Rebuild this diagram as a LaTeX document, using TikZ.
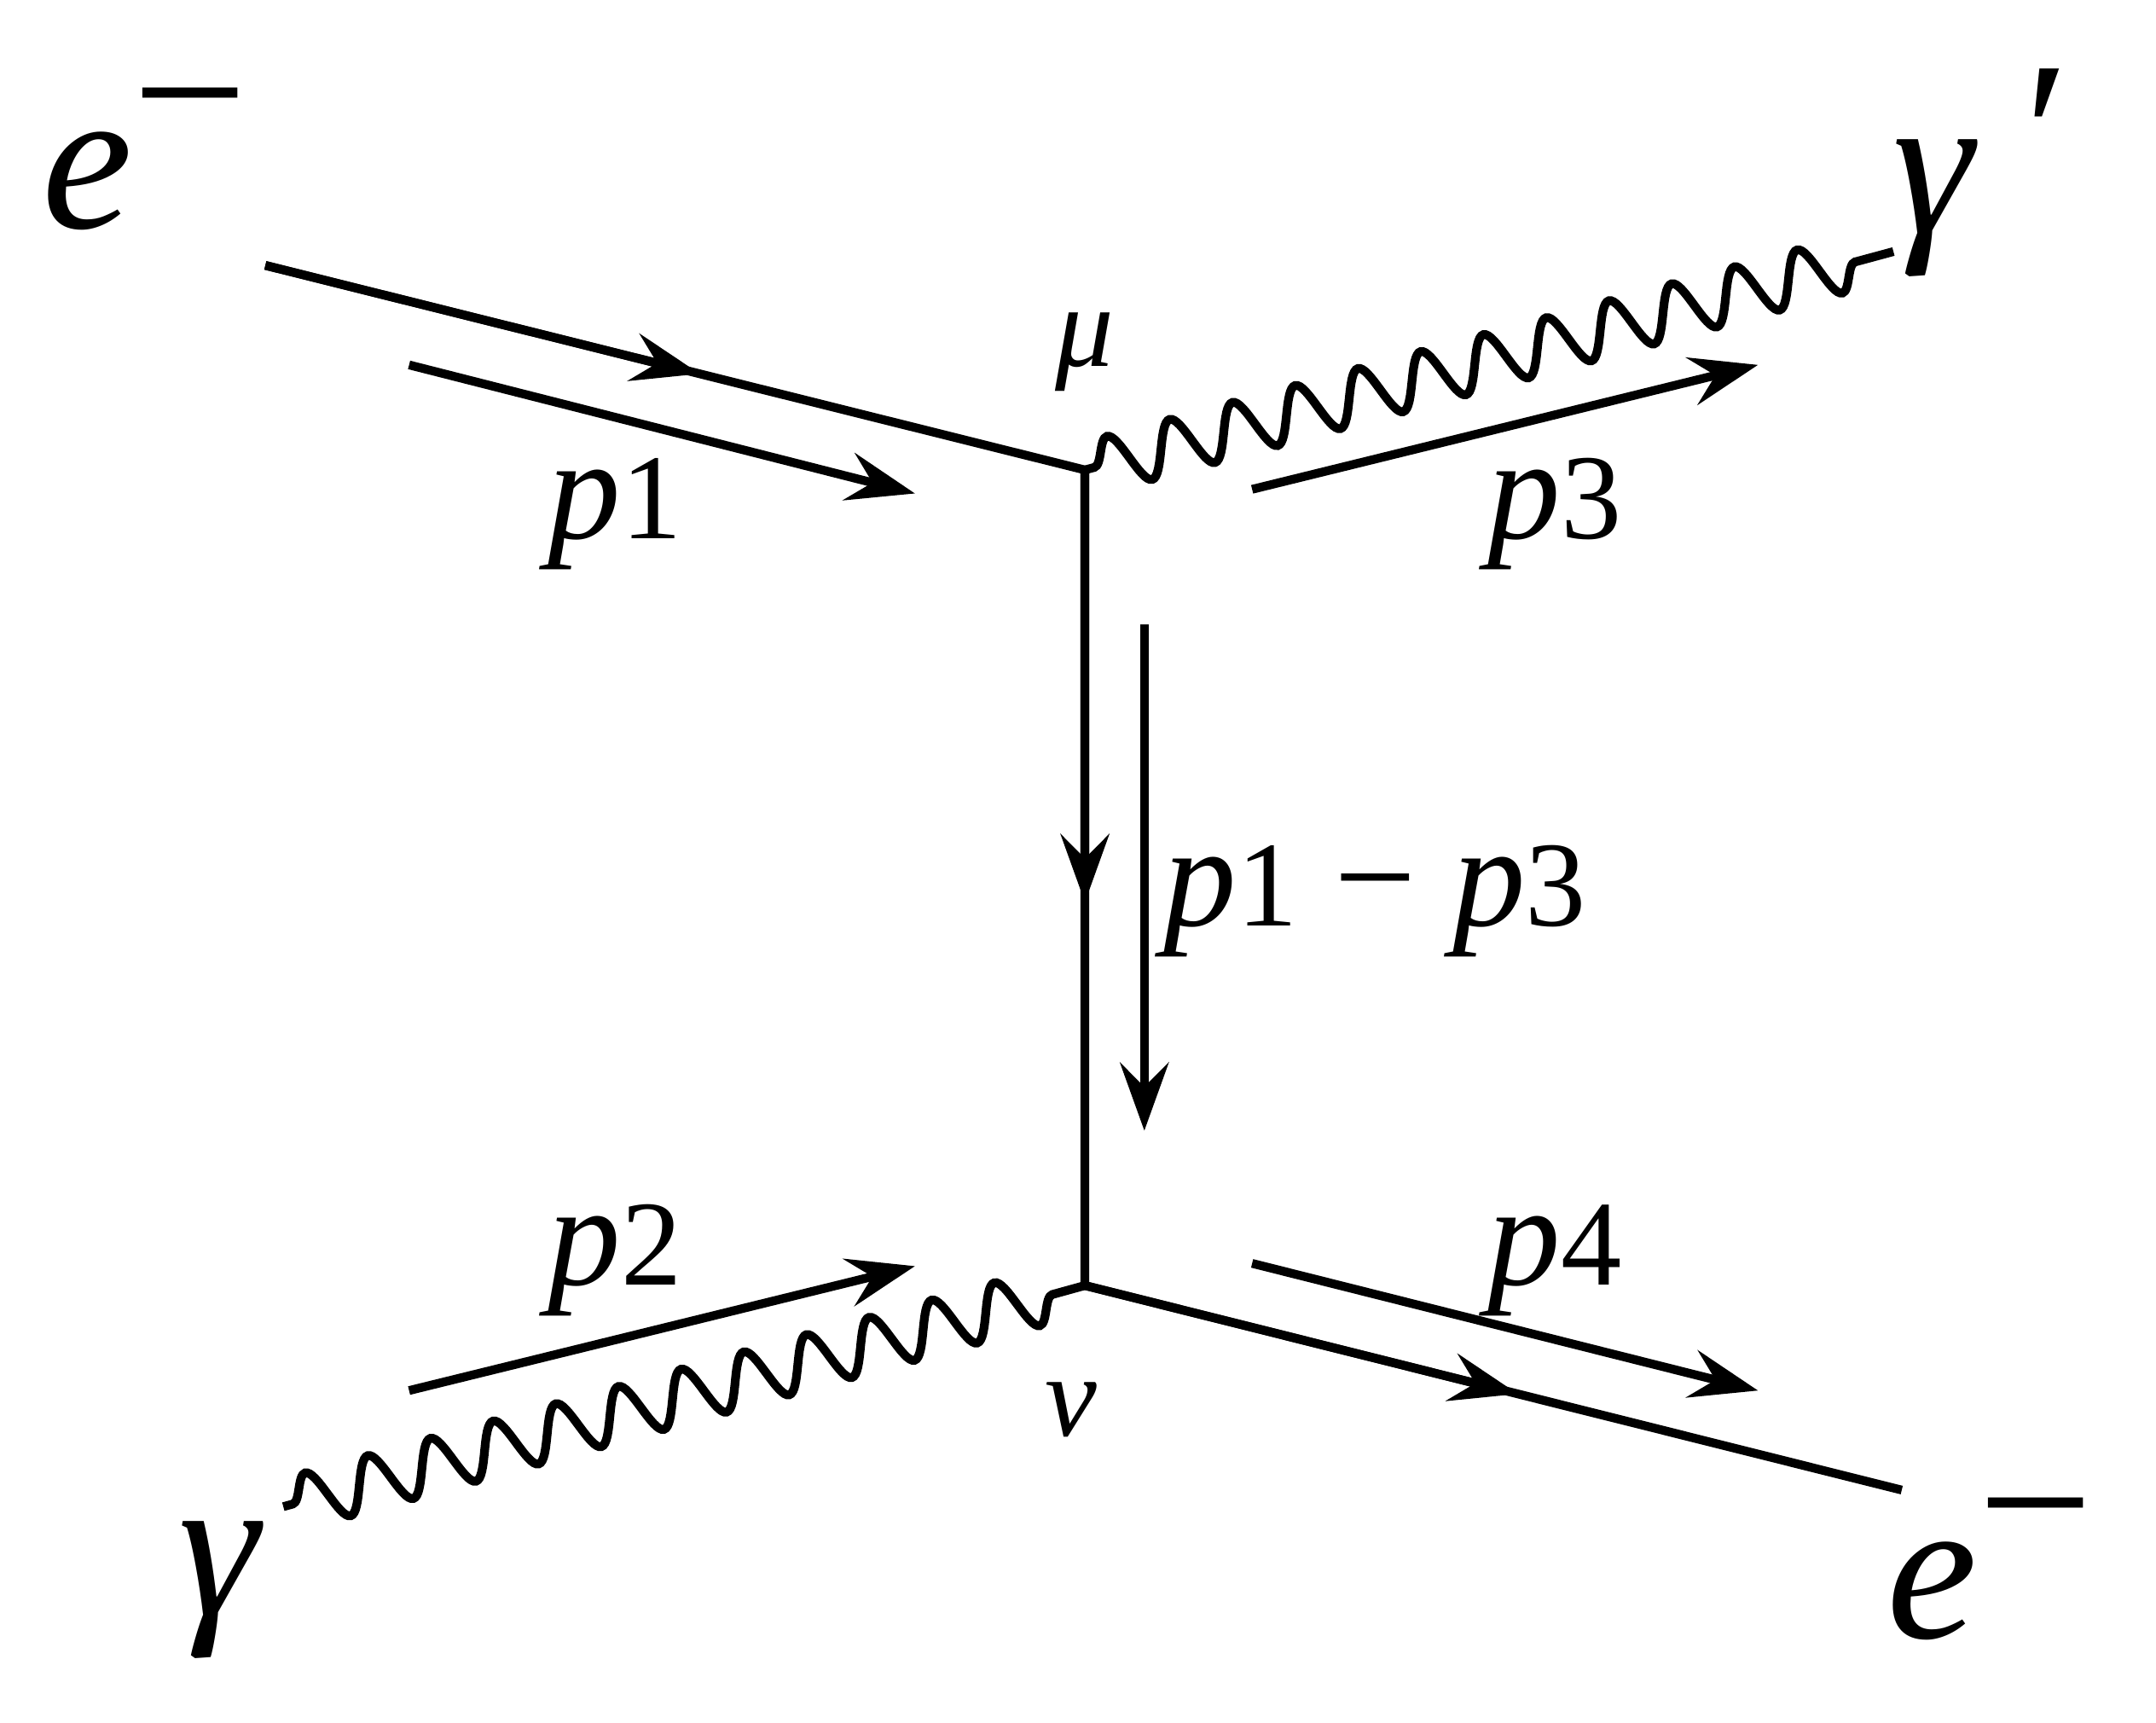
\documentclass[tikz,border=0pt]{standalone}
\usepackage{fontspec}
\setmainfont{Liberation Serif}
\usetikzlibrary{arrows.meta,decorations.pathmorphing,positioning,calc}
\newcommand{\ix}[1]{{\fontsize{25}{30}\selectfont #1}}
\begin{document}
\begin{tikzpicture}[x=0.01cm,y=-0.01cm,line width=1.8pt,
    every node/.append style={font=\fontsize{30}{36}\selectfont},
    photon/.style={decorate,decoration={snake,amplitude=5.5pt,segment length=0.47cm,pre length=2pt,post length=2pt}},
    mom/.style={-{Stealth[length=14pt,width=10pt,inset=5pt]}},
    mid/.style={-{Stealth[length=14pt,width=10pt,inset=5pt]}},
    big/.style={font=\fontsize{42}{50}\selectfont},
    small/.style={font=\fontsize{24}{28}\selectfont}]
  \useasboundingbox (0,0) rectangle (1560,1246);
  % vertices and free ends
  \coordinate (mu) at (785,340);
  \coordinate (nu) at (785,930);
  \coordinate (ein) at (192,192);
  \coordinate (eout) at (1376,1078);
  \coordinate (gin) at (205,1090);
  \coordinate (gout) at (1370,182);
  % fermion lines
  \draw[mid] (ein) -- ($(ein)!0.53!(mu)$);
  \draw (ein) -- (mu) -- (nu) -- (eout);
  \draw[mid] (mu) -- ($(mu)!0.53!(nu)$);
  \draw[mid] (nu) -- ($(nu)!0.53!(eout)$);
  % photons
  \draw[photon] (gin) -- (nu);
  \draw[photon] (mu) -- (gout);
  % momentum arrows
  \draw[mom] (296,264) -- (662,357);
  \draw[mom] (906,354) -- (1272,264);
  \draw[mom] (828,452) -- (828,818);
  \draw[mom] (296,1006) -- (662,916);
  \draw[mom] (906,914) -- (1272,1006);
  % labels
  \node[big] (le1) at (105,115) {\textit{e}\raisebox{0.33em}{−}};
  \node[big] (lg2) at (1430,125) {\textit{γ}\,\raisebox{0.15em}{\textit{′}}};
  \node[big] (lg1) at (160,1150) {\textit{γ}};
  \node[big] (le2) at (1440,1135) {\textit{e}\raisebox{0.33em}{−}};
  \node[small] (lmu) at (785,255) {\textit{μ}};
  \node[small] (lnu) at (775,1020) {\textit{ν}};
  \node (lp1) at (445,372) {\textit{p}\ix{1}};
  \node (lp3) at (1125,372) {\textit{p}\ix{3}};
  \node (lp13) at (995,652) {\textit{p}\ix{1} − \textit{p}\ix{3}};
  \node (lp2) at (445,912) {\textit{p}\ix{2}};
  \node (lp4) at (1125,912) {\textit{p}\ix{4}};
\end{tikzpicture}
\end{document}
